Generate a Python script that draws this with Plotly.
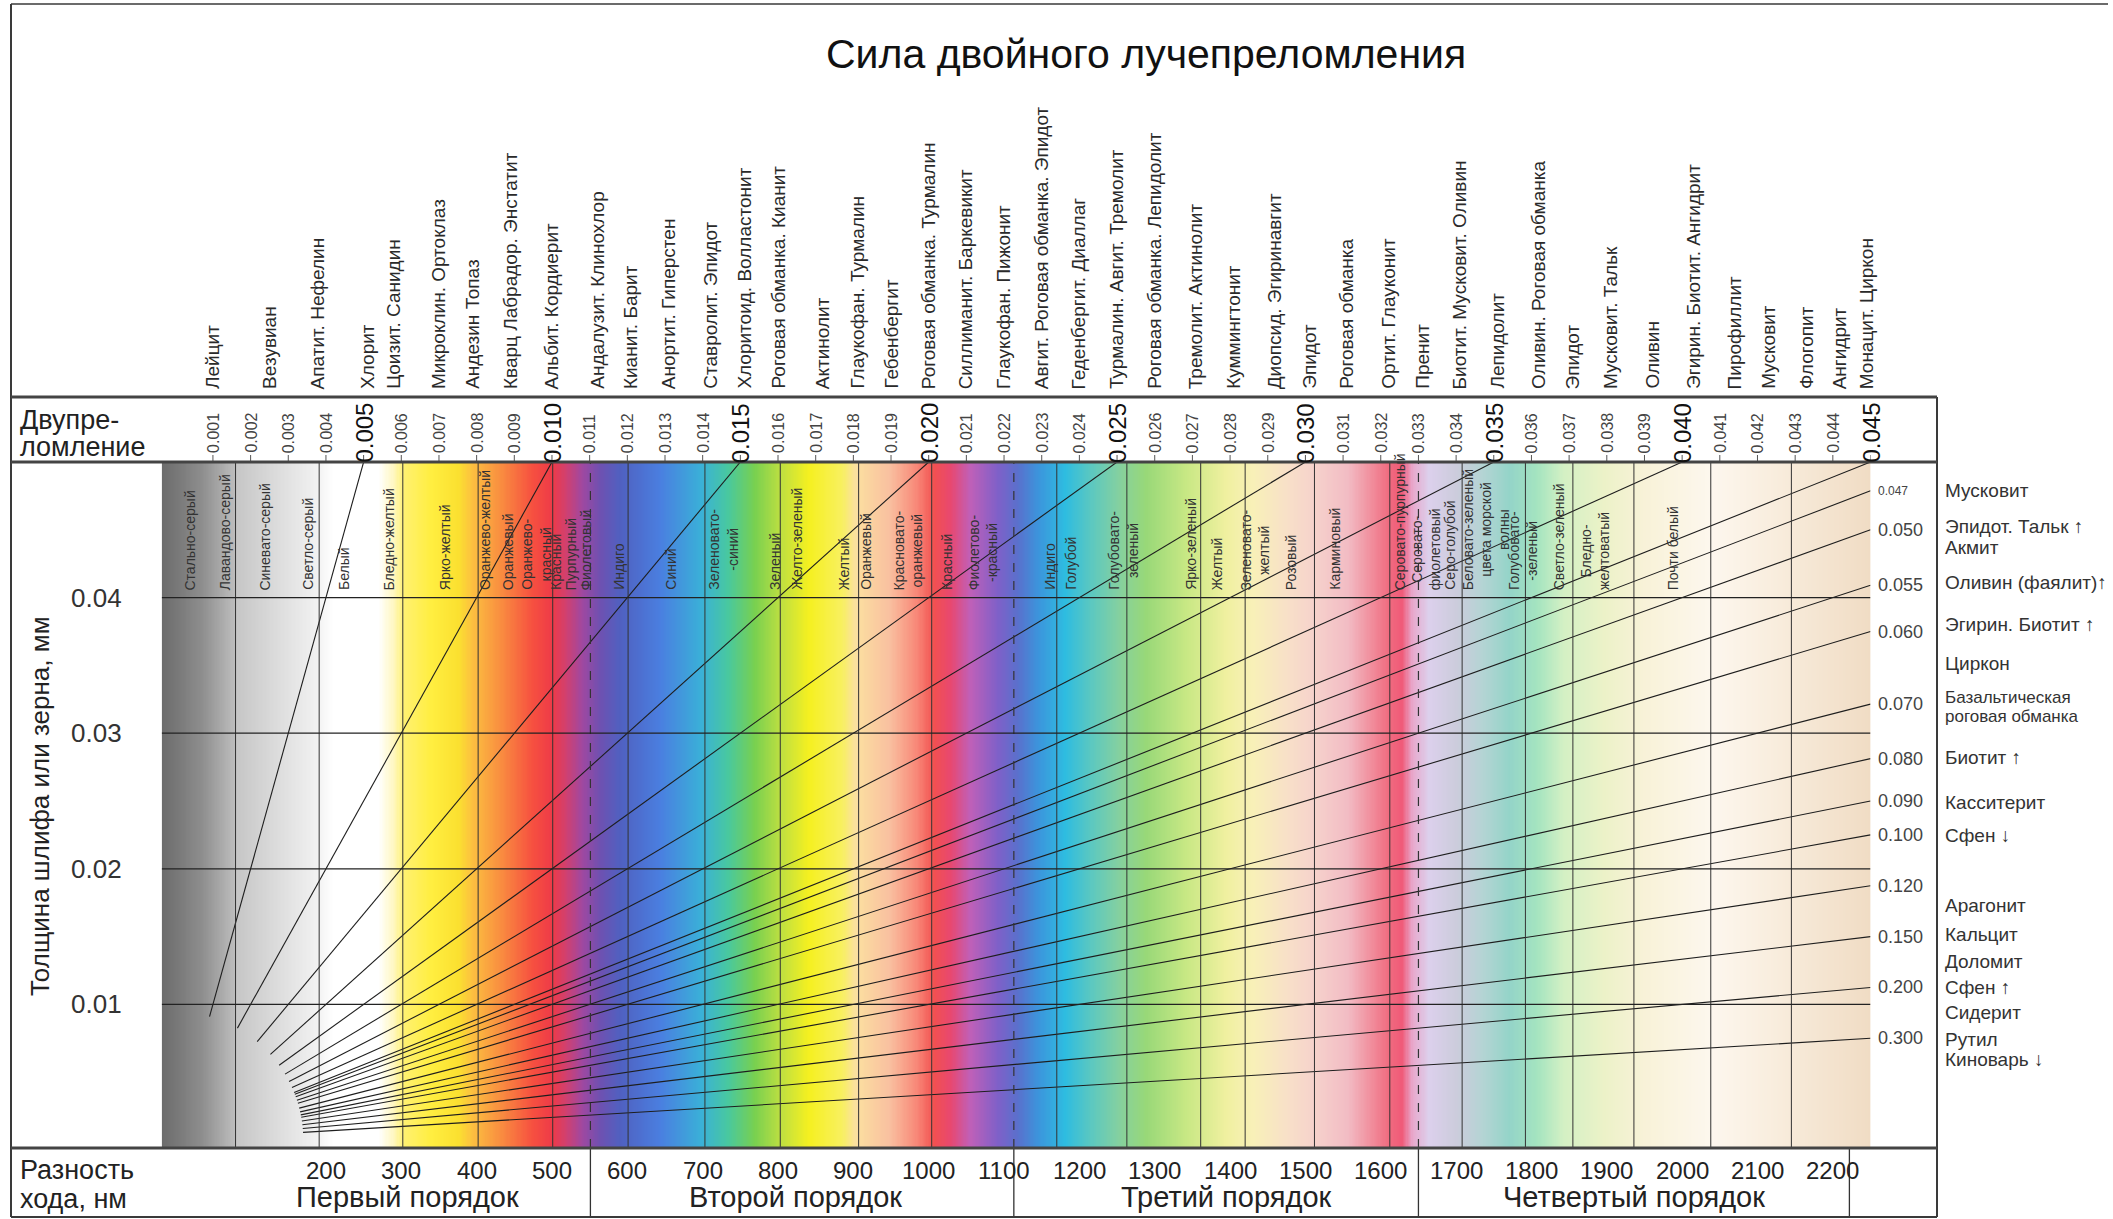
import numpy as np
import plotly.graph_objects as go

W, H = 2113, 1219
NARROW = "Liberation Sans Narrow, Arial Narrow, Liberation Sans, Arial, sans-serif"
REG = "Liberation Sans, Arial, sans-serif"

# ---------------- data ----------------
TITLE = "Сила двойного лучепреломления"

# interference colour stops: retardation (nm) -> colour
COLOR_NM = [-18, 36, 79, 82, 150, 191, 210, 270, 290, 304, 340, 376, 394, 430, 474, 501,
            519, 540, 563, 590, 644, 698, 733, 769, 805, 841, 885, 903, 948, 984, 1007,
            1029, 1055, 1091, 1118, 1145, 1181, 1216, 1252, 1288, 1342, 1395, 1431, 1476,
            1512, 1556, 1610, 1628, 1642, 1664, 1700, 1735, 1771, 1807, 1843, 1896, 1950,
            2039, 2129, 2250]
COLOR_HEX = ["#6b6b6b", "#8e8e8e", "#bdbdbd", "#c6c6c6", "#e2e2e2", "#f3f3f3", "#ffffff",
             "#ffffff", "#fff7c0", "#fff170", "#ffee40", "#fbe030", "#fcc040", "#f99040",
             "#f65040", "#ee3a48", "#d04070", "#a048a0", "#7050b0", "#5060c0", "#4a7fe0",
             "#3ab0d8", "#48c8a0", "#78d050", "#c0e040", "#f5f020", "#f8f060", "#fbe0a0",
             "#f9c0a0", "#f88878", "#f25050", "#e84870", "#c060b8", "#8060c8", "#5a70cc",
             "#3c94dc", "#2ebce0", "#5cc8c0", "#84d0a0", "#98d878", "#c8e884", "#f0f0a0",
             "#f8f0b8", "#f8e0c8", "#f6d2cc", "#f2bcc4", "#f06c80", "#f05a78", "#e8a8cc",
             "#dcd0ec", "#ccccdc", "#b4d4d4", "#94d4c8", "#a4e4c0", "#d4f0c4", "#ecf2c8",
             "#f8f2d8", "#fdf7ee", "#f8ecdc", "#f0dcc4"]

SEPARATORS_NM = [80, 191, 302, 402, 501, 601, 703, 803, 907, 1004, 1170, 1263, 1361, 1420,
                 1512, 1612, 1708, 1792, 1855, 1936, 2038, 2145]
ORDER_BOUNDS_NM = [551, 1113, 1650, 2222]
ORDER_NAMES = ["Первый порядок", "Второй порядок", "Третий порядок", "Четвертый порядок"]
ORDER_LABEL_NM = [308, 823, 1395, 1936]

RETARD_TICKS = [200, 300, 400, 500, 600, 700, 800, 900, 1000, 1100, 1200, 1300, 1400,
                1500, 1600, 1700, 1800, 1900, 2000, 2100, 2200]
THICK_TICKS = [0.01, 0.02, 0.03, 0.04]

BIREF_TICKS = [round(0.001 * i, 3) for i in range(1, 46)]

LINE_D = [0.005, 0.010, 0.015, 0.020, 0.025, 0.030, 0.035, 0.040, 0.045, 0.047, 0.050,
          0.055, 0.060, 0.070, 0.080, 0.090, 0.100, 0.120, 0.150, 0.200, 0.300]
RIGHT_VALUE_LABELS = ["0.047", "0.050", "0.055", "0.060", "0.070", "0.080", "0.090",
                      "0.100", "0.120", "0.150", "0.200", "0.300"]

MINERALS_TOP = ["Лейцит", "Везувиан", "Апатит. Нефелин", "Хлорит", "Цоизит. Санидин",
                "Микроклин. Ортоклаз", "Андезин Топаз", "Кварц Лабрадор. Энстатит",
                "Альбит. Кордиерит", "Андалузит. Клинохлор", "Кианит. Барит",
                "Анортит. Гиперстен", "Ставролит. Эпидот", "Хлоритоид. Волластонит",
                "Роговая обманка. Кианит", "Актинолит", "Глаукофан. Турмалин", "Гебенбергит",
                "Роговая обманка. Турмалин", "Силлиманит. Баркевикит", "Глаукофан. Пижонит",
                "Авгит. Роговая обманка. Эпидот", "Геденбергит. Диаллаг",
                "Турмалин. Авгит. Тремолит", "Роговая обманка. Лепидолит",
                "Тремолит. Актинолит", "Куммингтонит", "Диопсид. Эгиринавгит", "Эпидот",
                "Роговая обманка", "Ортит. Глауконит", "Пренит", "Биотит. Мусковит. Оливин",
                "Лепидолит", "Оливин. Роговая обманка", "Эпидот", "Мусковит. Тальк", "Оливин",
                "Эгирин. Биотит. Ангидрит", "Пирофиллит", "Мусковит", "Флогопит", "Ангидрит",
                "Монацит. Циркон"]
MINERALS_TOP_D = [0.0010, 0.0025, 0.0038, 0.0051, 0.0058, 0.0070, 0.0079, 0.0089, 0.0100,
                  0.0112, 0.0121, 0.0131, 0.0142, 0.0151, 0.0160, 0.0172, 0.0181, 0.0190,
                  0.0200, 0.0210, 0.0220, 0.0230, 0.0240, 0.0250, 0.0260, 0.0271, 0.0281,
                  0.0292, 0.0301, 0.0311, 0.0322, 0.0331, 0.0341, 0.0351, 0.0362, 0.0371,
                  0.0381, 0.0392, 0.0403, 0.0414, 0.0423, 0.0433, 0.0442, 0.0449]

MINERALS_RIGHT = ["Мусковит", "Эпидот. Тальк ↑", "Акмит", "Оливин (фаялит)↑",
                  "Эгирин. Биотит ↑", "Циркон", "Базальтическая<br>роговая обманка",
                  "Биотит ↑", "Касситерит", "Сфен ↓", "Арагонит", "Кальцит", "Доломит",
                  "Сфен ↑", "Сидерит", "Рутил", "Киноварь ↓"]
MINERALS_RIGHT_D = [0.047, 0.0497, 0.0515, 0.0547, 0.0592, 0.064, 0.0705, 0.0797, 0.0903,
                    0.1002, 0.1302, 0.1488, 0.1705, 0.2007, 0.2402, 0.305, 0.3767]

COLOR_NAMES = ["Стально-серый", "Лавандово-серый", "Синевато-серый", "Светло-серый", "Белый",
               "Бледно-желтый", "Ярко-желтый", "Оранжево-желтый", "Оранжевый",
               "Оранжево-<br>красный", "Красный", "Пурпурный", "Фиолетовый", "Индиго",
               "Синий", "Зеленовато-<br>-синий", "Зеленый", "Желто-зеленый", "Желтый",
               "Оранжевый", "Красновато-<br>оранжевый", "Красный", "Фиолетово-<br>-красный",
               "Индиго", "Голубой", "Голубовато-<br>зеленый", "Ярко-зеленый", "Желтый",
               "Зеленовато-<br>желтый", "Розовый", "Карминовый", "Серовато-пурпурный",
               "Серовато-<br>фиолетовый", "Серо-голубой",
               "Беловато-зеленый<br>цвета морской<br>волны", "Голубовато-<br>-зеленый",
               "Светло-зеленый", "Бледно-<br>желтоватый", "Почти белый"]
COLOR_NAMES_NM = [20, 66, 119, 177, 223, 284, 358, 411, 441, 479, 505, 525, 545, 589, 658,
                  727, 795, 826, 887, 917, 973, 1024, 1072, 1161, 1189, 1258, 1349, 1382,
                  1433, 1481, 1540, 1625, 1660, 1692, 1739, 1788, 1836, 1884, 1988]

# ---------------- geometry ----------------
X_RANGE = [-18, 2250]
Y_RANGE = [-0.00059, 0.05]
PX_L, PX_R = 161.7, 1870.5      # plot area (pixels)
PY_T, PY_B = 462.0, 1148.0


def px(x):
    return x / W


def py(y):
    return 1 - y / H


kx = (PX_R - PX_L) / (X_RANGE[1] - X_RANGE[0])
ky = (PY_B - PY_T) / (Y_RANGE[1] - Y_RANGE[0])

fig = go.Figure()

# colour background
edges = np.linspace(X_RANGE[0], X_RANGE[1], 1400)
centers = (edges[:-1] + edges[1:]) / 2
cs = [[(n - X_RANGE[0]) / (X_RANGE[1] - X_RANGE[0]), c] for n, c in zip(COLOR_NM, COLOR_HEX)]
fig.add_trace(go.Heatmap(x=edges, y=Y_RANGE, z=[centers], colorscale=cs,
                         zmin=X_RANGE[0], zmax=X_RANGE[1], showscale=False,
                         hoverinfo="skip", zsmooth=False))

# birefringence lines
R_START = 128.0
for d in LINE_D:
    slope = d * 1e6  # nm per mm
    L = np.hypot(slope * kx, ky)
    t0 = R_START / L
    t1 = min(Y_RANGE[1], X_RANGE[1] / slope)
    fig.add_trace(go.Scatter(x=[slope * t0, slope * t1], y=[t0, t1], mode="lines",
                             line=dict(color="#1e1e1e", width=1.1), hoverinfo="skip",
                             showlegend=False))

shapes = []
for n in SEPARATORS_NM:
    shapes.append(dict(type="line", xref="x", yref="y", x0=n, x1=n, y0=Y_RANGE[0],
                       y1=Y_RANGE[1], line=dict(color="#333", width=1)))
for n in ORDER_BOUNDS_NM[:3]:
    shapes.append(dict(type="line", xref="x", yref="y", x0=n, x1=n, y0=Y_RANGE[0],
                       y1=Y_RANGE[1], line=dict(color="#333", width=1.2, dash="dash")))
for n in ORDER_BOUNDS_NM:
    shapes.append(dict(type="line", xref="x", yref="paper", x0=n, x1=n, y0=py(1217),
                       y1=py(1148), line=dict(color="#333", width=1.3)))
for t in THICK_TICKS:
    shapes.append(dict(type="line", xref="x", yref="y", x0=X_RANGE[0], x1=X_RANGE[1], y0=t,
                       y1=t, line=dict(color="#222", width=1.2)))
for d in BIREF_TICKS:
    shapes.append(dict(type="line", xref="x", yref="paper", x0=d * 50000, x1=d * 50000,
                       y0=py(462), y1=py(455), line=dict(color="#555", width=1)))
frame = "#3a3a3a"
shapes += [
    dict(type="line", xref="paper", yref="paper", x0=px(11), x1=px(11), y0=py(4), y1=py(1217),
         line=dict(color=frame, width=2)),
    dict(type="line", xref="paper", yref="paper", x0=px(11), x1=px(2108), y0=py(4), y1=py(4),
         line=dict(color=frame, width=1.5)),
    dict(type="line", xref="paper", yref="paper", x0=px(11), x1=px(1937), y0=py(1217),
         y1=py(1217), line=dict(color=frame, width=2)),
    dict(type="line", xref="paper", yref="paper", x0=px(1937), x1=px(1937), y0=py(397),
         y1=py(1217), line=dict(color=frame, width=2)),
]
for yy in (397, 462, 1148):
    shapes.append(dict(type="line", xref="paper", yref="paper", x0=px(11), x1=px(1937),
                       y0=py(yy), y1=py(yy), line=dict(color="#444", width=3)))

ann = []


def A(text, x, y, xref="paper", yref="paper", size=14, angle=0, xa="center", ya="middle",
      family=NARROW, color="#222", align="center"):
    ann.append(dict(text=text, x=x, y=y, xref=xref, yref=yref, showarrow=False,
                    textangle=angle, xanchor=xa, yanchor=ya, align=align,
                    font=dict(size=size, family=family, color=color)))


A(TITLE, px(1146), py(54), size=41, family=REG, color="#111")

for name, d in zip(MINERALS_TOP, MINERALS_TOP_D):
    A(name, d * 50000, py(391), xref="x", size=19, angle=-90, ya="bottom", color="#2a2a2a")

for d in BIREF_TICKS:
    big = round(d * 1000) % 5 == 0
    if big:
        A(f"{d:.3f}", d * 50000, py(465), xref="x", size=24, angle=-90, ya="bottom",
          family=REG, color="#111")
    else:
        A(f"{d:.3f}", d * 50000, py(455), xref="x", size=16, angle=-90, ya="bottom",
          color="#444")

A("Двупре-", px(18), py(420), size=27, xa="left", family=REG)
A("ломление", px(18), py(447), size=27, xa="left", family=REG)
A("Разность", px(18), py(1170), size=27, xa="left", family=REG)
A("хода, нм", px(18), py(1199), size=27, xa="left", family=REG)

for v in RETARD_TICKS:
    A(str(v), v, py(1170), xref="x", size=24)
for name, n in zip(ORDER_NAMES, ORDER_LABEL_NM):
    A(name, n, py(1197), xref="x", size=29)

for t in THICK_TICKS:
    A(f"{t:.2f}", px(124), t, yref="y", size=26, xa="right", family=REG, color="#333")
A("Толщина шлифа или зерна, мм", px(40), py(806), size=26, angle=-90, family=REG)

for name, n in zip(COLOR_NAMES, COLOR_NAMES_NM):
    A(name, n, 0.0404, xref="x", yref="y", size=14, angle=-90, ya="bottom", color="#333")

for d, lab in zip(LINE_D[9:], RIGHT_VALUE_LABELS):
    t1 = X_RANGE[1] / (d * 1e6)
    A(lab, px(1876), t1, yref="y", size=12 if lab == "0.047" else 18, xa="left",
      family=REG, color="#444")

for name, d in zip(MINERALS_RIGHT, MINERALS_RIGHT_D):
    t = X_RANGE[1] / (d * 1e6)
    lines = name.split("<br>")
    if len(lines) == 1:
        A(name, px(1943), t, yref="y", size=19, xa="left", family=REG, color="#333")
    else:
        yc = (1140 - t * ky)  # pixel centre of the label
        for i, ln in enumerate(lines):
            A(ln, px(1943), py(yc + (i - (len(lines) - 1) / 2) * 19), size=17, xa="left",
              family=REG, color="#333")

fig.update_layout(
    width=W, height=H, autosize=False, margin=dict(l=0, r=0, t=0, b=0),
    paper_bgcolor="white", plot_bgcolor="white", showlegend=False,
    xaxis=dict(domain=[px(PX_L), px(PX_R)], range=X_RANGE, visible=False, fixedrange=True),
    yaxis=dict(domain=[py(PY_B), py(PY_T)], range=Y_RANGE, visible=False, fixedrange=True),
    shapes=shapes, annotations=ann,
)
fig.write_html(
    "out.html",
    config={"displayModeBar": False},
    post_script="document.body.style.margin='0';document.body.style.overflow='hidden';"
                "document.documentElement.style.overflow='hidden';",
)
